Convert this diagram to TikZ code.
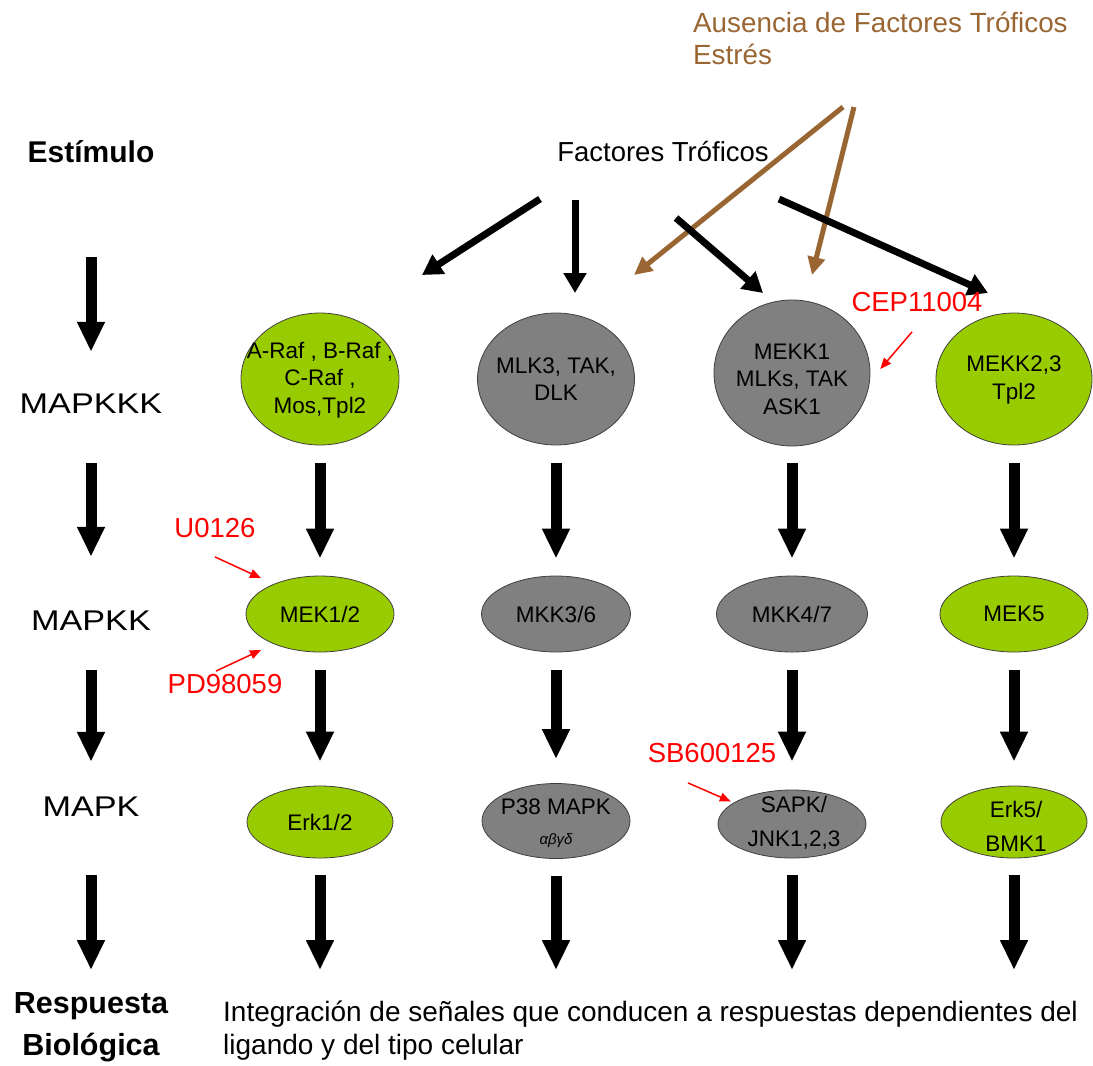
\documentclass[tikz,border=0pt]{standalone}
\usepackage{fontspec}
\setmainfont{Liberation Sans}
\newfontfamily\widefont{Liberation Sans}[FakeStretch=1.2]
\usetikzlibrary{arrows.meta,shapes.geometric}
\definecolor{kgreen}{RGB}{153,204,0}
\definecolor{kgrey}{RGB}{128,128,128}
\definecolor{kbrown}{RGB}{153,102,51}
\definecolor{kred}{RGB}{255,0,0}
\begin{document}
\begin{tikzpicture}[x=1pt,y=-1pt,
  kinase/.style={ellipse,draw=black!75,line width=0.8pt,inner sep=0pt},
  ras/.style={kinase,fill=kgreen},
  stress/.style={kinase,fill=kgrey},
  ktext/.style={align=center,inner sep=0pt,font=\fontsize{22.5}{27.5}\selectfont},
  stage/.style={inner sep=0pt,text height=22pt,text depth=6pt,font=\widefont\fontsize{28.5}{34}\selectfont},
  drug/.style={text=kred,inner sep=0pt,font=\fontsize{27.5}{32}\selectfont},
  block/.style={line width=11pt,-{Triangle[width=26pt,length=30pt]}},
  feed/.style={line width=7pt,-{Triangle[width=22pt,length=20pt]}},
  lack/.style={kbrown,line width=5pt,-{Triangle[width=17pt,length=18pt]}},
  inhib/.style={kred,line width=1.5pt,-{Triangle[width=9pt,length=11pt]}},
  gap/.style 2 args={shorten <=#1pt,shorten >=#2pt}
]
\useasboundingbox (0,0) rectangle (1093,1066);

% stages
\node[stage,font=\bfseries\fontsize{30}{36}\selectfont] (stim) at (91,154) {Estímulo};
\node[stage] (mkkk) at (91,405) {MAPKKK};
\node[stage] (mkk) at (91,622) {MAPKK};
\node[stage] (mk) at (91,808) {MAPK};
\node[align=center,inner sep=0pt,anchor=north,font=\bfseries\fontsize{30.5}{42}\selectfont] (resp) at (91,992) {Respuesta\\Biológica};

% stimuli
\node[inner sep=0pt,font=\fontsize{27.5}{32}\selectfont] (trof) at (663,152) {Factores Tróficos};
\node[align=left,anchor=west,inner sep=0pt,text=kbrown,font=\fontsize{27.8}{32}\selectfont] (ausen) at (693,38) {Ausencia de Factores Tróficos\\Estrés};

% MAPKKK
\node[ras,minimum width=158pt,minimum height=132pt] (raf) at (320,379) {};
\node[ktext] (raft) at (320,380) {A-Raf , B-Raf ,\\C-Raf ,\\Mos,Tpl2};
\node[stress,minimum width=157pt,minimum height=132pt] (mlk) at (556,379) {};
\node[ktext] (mlkt) at (556,379) {MLK3, TAK,\\DLK};
\node[stress,minimum width=156pt,minimum height=146pt] (mekk1) at (792,373) {};
\node[ktext] (mekk1t) at (792,379) {MEKK1\\MLKs, TAK\\ASK1};
\node[ras,minimum width=156pt,minimum height=132pt] (mekk2) at (1014,379) {};
\node[ktext] (mekk2t) at (1014,380) {MEKK2,3\\Tpl2};

% MAPKK
\node[ras,minimum width=148pt,minimum height=76pt] (mek12) at (320,614) {};
\node[ktext] (mek12t) at (320,614) {MEK1/2};
\node[stress,minimum width=149pt,minimum height=76pt] (mkk36) at (556,614) {};
\node[ktext] (mkk36t) at (556,614) {MKK3/6};
\node[stress,minimum width=151pt,minimum height=76pt] (mkk47) at (792,614) {};
\node[ktext] (mkk47t) at (792,614) {MKK4/7};
\node[ras,minimum width=148pt,minimum height=76pt] (mek5) at (1014,614) {};
\node[ktext] (mek5t) at (1014,614) {MEK5};

% MAPK
\node[ras,minimum width=146pt,minimum height=72pt] (erk12) at (320,822) {};
\node[ktext] (erk12t) at (320,822) {Erk1/2};
\node[stress,minimum width=148pt,minimum height=75pt] (p38) at (556,821) {};
\node[ktext] (p38t) at (556,823) {P38 MAPK\\[2pt]{\itshape\fontsize{15}{18}\selectfont αβγδ}};
\node[stress,minimum width=148pt,minimum height=68pt] (sapk) at (792,824) {};
\node[ktext,font=\fontsize{22.5}{34}\selectfont] (sapkt) at (794,823) {SAPK/\\JNK1,2,3};
\node[ras,minimum width=146pt,minimum height=72pt] (erk5) at (1014,822) {};
\node[ktext,font=\fontsize{22.5}{34}\selectfont] (erk5t) at (1016,826) {Erk5/\\BMK1};

% response
\node[align=left,anchor=north west,inner sep=0pt,font=\fontsize{28}{33}\selectfont] (integ) at (223,1001) {Integración de señales que conducen a respuestas dependientes del\\ligando y del tipo celular};

% left column
\draw[block,gap={89}{39}] (stim) -- (mkkk);
\draw[block,gap={44}{51}] (mkkk) -- (mkk);
\draw[block,gap={34}{32}] (mkk) -- (mk);
\draw[block,gap={53}{22}] (mk) -- (resp);

% columns
\draw[block,gap={18}{17}] (raf) -- (mek12);
\draw[block,gap={18}{17}] (mlk) -- (mkk36);
\draw[block,gap={17}{17}] (mekk1) -- (mkk47);
\draw[block,gap={18}{17}] (mekk2) -- (mek5);
\draw[block,gap={18}{24}] (mek12) -- (erk12);
\draw[block,gap={18}{24}] (mkk36) -- (p38);
\draw[block,gap={18}{28}] (mkk47) -- (sapk);
\draw[block,gap={18}{24}] (mek5) -- (erk5);
\draw[block,gap={17}{31}] (erk12) -- (erk12 |- integ.north);
\draw[block,gap={17}{31}] (p38) -- (p38 |- integ.north);
\draw[block,gap={17}{31}] (sapk) -- (sapk |- integ.north);
\draw[block,gap={17}{31}] (erk5) -- (erk5 |- integ.north);

% stimulus arrows
\coordinate (lackA) at (843,107);
\coordinate (lackB) at (854,107);
\coordinate (lackAend) at (634,275);
\coordinate (lackBend) at (812,275);
\draw[lack] (lackA) -- (lackAend);
\draw[lack] (lackB) -- (lackBend);

\coordinate (ftA) at (540,199);
\coordinate (ftB) at (575,200);
\coordinate (ftC) at (676,218);
\coordinate (ftD) at (779,199);
\coordinate (ftAend) at (422,275);
\coordinate (ftBend) at (575,293);
\coordinate (ftCend) at (763,293);
\coordinate (ftDend) at (988,293);
\draw[feed] (ftA) -- (ftAend);
\draw[feed] (ftB) -- (ftBend);
\draw[feed] (ftC) -- (ftCend);
\draw[feed] (ftD) -- (ftDend);

% inhibitors
\node[drug] (u0126) at (215,528) {U0126};
\node[drug] (pd) at (225,684) {PD98059};
\node[drug] (cep) at (917,302) {CEP11004};
\node[drug] (sb) at (712,753) {SB600125};
\draw[inhib,shorten >=14pt] ([yshift=-19pt]u0126.south) -- (mek12.147);
\draw[inhib,shorten >=14pt] ([xshift=-9pt,yshift=3pt]pd.north) -- (mek12.213);
\draw[inhib,shorten >=16pt] ([xshift=-5pt,yshift=-20pt]cep.south) -- (mekk1.-6);
\draw[inhib,shorten >=3pt] ([xshift=-24pt,yshift=-20pt]sb.south) -- (sapk.160);
\end{tikzpicture}
\end{document}
